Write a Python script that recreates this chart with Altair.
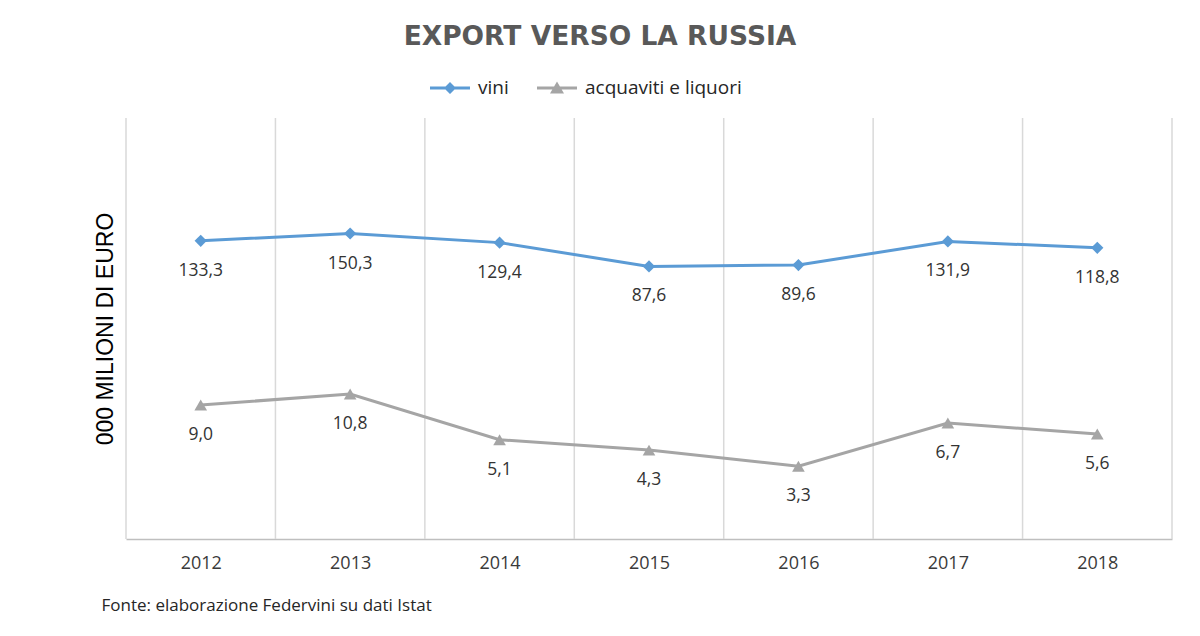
import altair as alt
import pandas as pd

anni = [2012, 2013, 2014, 2015, 2016, 2017, 2018]
vini = [133.3, 150.3, 129.4, 87.6, 89.6, 131.9, 118.8]
acquaviti = [9.0, 10.8, 5.1, 4.3, 3.3, 6.7, 5.6]
serie = ["vini", "acquaviti e liquori"]
colori = ["#5B9BD5", "#A5A5A5"]
confini = [2011.5, 2012.5, 2013.5, 2014.5, 2015.5, 2016.5, 2017.5, 2018.5]

def fmt(v):
    return f"{v:.1f}".replace(".", ",")

rows = []
for a, v in zip(anni, vini):
    rows.append({"anno": a, "serie": serie[0], "valore": v, "etichetta": fmt(v)})
for a, v in zip(anni, acquaviti):
    rows.append({"anno": a, "serie": serie[1], "valore": v, "etichetta": fmt(v)})
df = pd.DataFrame(rows)
df_confini = pd.DataFrame({"x": confini})

FONT = "Open Sans"

xscale = alt.Scale(domain=[2011.5, 2018.5], nice=False, zero=False)
yscale = alt.Scale(type="log", domain=[1, 1000], nice=False)
cscale = alt.Scale(domain=serie, range=colori)

x_enc = alt.X(
    "anno:Q",
    scale=xscale,
    axis=alt.Axis(
        values=anni, format="d", grid=False, ticks=False,
        domainColor="#BFBFBF", domainWidth=1.5,
        labelFont=FONT, labelFontSize=18, labelColor="#3A3A3A",
        labelPadding=15,
        title="Fonte: elaborazione Federvini su dati Istat",
        titleFont=FONT, titleFontSize=17, titleFontWeight="normal",
        titleColor="#262626", titleAnchor="start", titleAlign="left",
        titleX=-25, titleY=66, titleBaseline="middle",
    ),
)
y_enc = alt.Y(
    "valore:Q",
    scale=yscale,
    axis=alt.Axis(
        labels=False, ticks=False, domain=False, grid=False,
        title="000 MILIONI DI EURO", titleFont="Liberation Sans",
        titleFontSize=23, titleFontWeight="normal", titleColor="#000000",
        titlePadding=9,
    ),
)

griglia = alt.Chart(df_confini).mark_rule(color="#D9D9D9", strokeWidth=1.5).encode(
    x=alt.X("x:Q", scale=xscale)
)

linee = alt.Chart(df).mark_line(strokeWidth=3).encode(
    x=x_enc, y=y_enc, color=alt.Color("serie:N", scale=cscale),
    detail="serie:N",
)

punti_v = alt.Chart(df).transform_filter(alt.datum.serie == serie[0]).mark_point(
    shape="diamond", filled=True, size=150, opacity=1
).encode(x=x_enc, y=y_enc, color=alt.Color("serie:N", scale=cscale))

punti_a = alt.Chart(df).transform_filter(alt.datum.serie == serie[1]).mark_point(
    shape="triangle-up", filled=True, size=160, opacity=1
).encode(x=x_enc, y=y_enc, color=alt.Color("serie:N", scale=cscale))

etichette = alt.Chart(df).mark_text(
    dy=30, font=FONT, fontSize=17.5, color="#333333"
).encode(x=x_enc, y=y_enc, text="etichetta:N")

forme = [
    "M-1,-0.075H1V0.075H-1Z M0,-0.3L0.3,0L0,0.3L-0.3,0Z",
    "M-1,-0.075H1V0.075H-1Z M0,-0.32L0.35,0.28L-0.35,0.28Z",
]
legenda = alt.Chart(df).transform_filter("false").mark_point(filled=True).encode(
    x=alt.X("anno:Q", scale=xscale),
    y=alt.Y("valore:Q", scale=yscale),
    color=alt.Color("serie:N", scale=cscale),
    shape=alt.Shape("serie:N", scale=alt.Scale(domain=serie, range=forme)),
)

chart = (
    alt.layer(griglia, linee, punti_v, punti_a, etichette, legenda)
    .properties(
        width=1046,
        height=421,
        autosize=alt.AutoSizeParams(type="none"),
        padding={"left": 118, "top": 110, "right": 20, "bottom": 90},
        title=alt.TitleParams(
            "EXPORT VERSO LA RUSSIA", font="DejaVu Sans", fontSize=26.5,
            fontWeight="bold", color="#595959", anchor="middle", dx=-49,
            offset=18,
        ),
    )
    .configure_view(stroke=None)
    .configure_legend(
        orient="none", legendX=304, legendY=-50, direction="horizontal",
        title=None, symbolSize=1600, symbolStrokeWidth=0,
        labelFont=FONT, labelFontSize=19, labelColor="#262626",
        labelOffset=8, columnPadding=28,
    )
)

chart.save("out.html", embed_options={"renderer": "svg", "actions": False})
